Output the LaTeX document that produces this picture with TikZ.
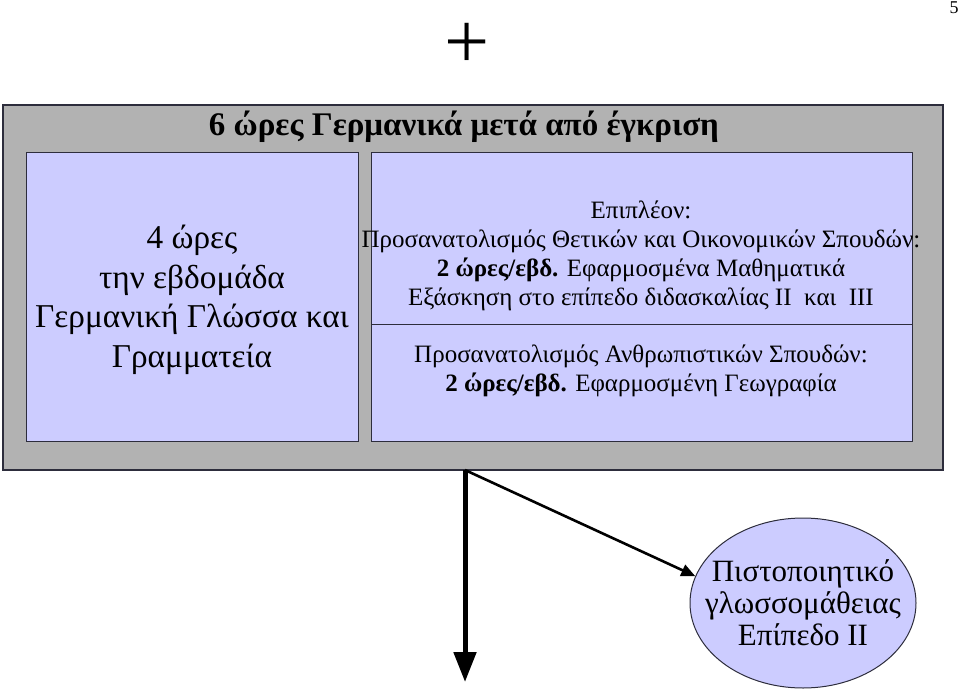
\documentclass[tikz,border=0pt]{standalone}
\usepackage{fontspec}
\setmainfont{Liberation Serif}
\usepackage{tikz}
\usetikzlibrary{shapes.geometric, arrows.meta, positioning}
\definecolor{panelgrey}{RGB}{178,178,178}
\definecolor{lilac}{RGB}{204,204,255}
\definecolor{edge}{RGB}{45,45,60}
\tikzset{
  frame/.style  = {rectangle, draw=edge, line width=1.2pt, fill=panelgrey,
                   inner sep=0pt},
  hbox/.style   = {rectangle, draw=edge, line width=1pt, fill=lilac,
                   align=center, inner sep=0pt},
  txt/.style    = {align=center, inner sep=0pt},
  cert/.style   = {ellipse, draw=edge, line width=1pt, fill=lilac,
                   minimum width=226pt, minimum height=170pt, inner sep=0pt},
  fat/.style    = {-{Triangle[length=30pt, width=22pt]}, line width=5pt, draw=black},
  thin/.style   = {-{Triangle[length=14pt, width=12pt]}, line width=2.6pt, draw=black},
}

\begin{document}
\begin{tikzpicture}[x=1pt, y=-1pt]
  \useasboundingbox (0,0) rectangle (960,690);

  \node[txt, font=\fontsize{80}{80}\selectfont] (plus) at (467,46) {+};
  \node[txt, font=\fontsize{18}{18}\selectfont] (page) at (954,8) {5};

  % grey panel with its two boxes
  \node[frame, minimum width=940pt, minimum height=365pt] (panel) at (473,287.5) {};
  \node[txt, font=\bfseries\fontsize{33}{36}\selectfont] (title) at (464,127)
    {6 ώρες Γερμανικά μετά από έγκριση};

  \node[hbox, minimum width=332pt, minimum height=289pt] (weekly) at (192,296.5) {};
  \node[txt, font=\fontsize{33.3}{39.5}\selectfont] (weeklytxt) at (192,300)
    {4 ώρες\\την εβδομάδα\\Γερμανική Γλώσσα και\\Γραμματεία};

  \node[hbox, minimum width=541pt, minimum height=172pt] (sci) at (641.5,238) {};
  \node[hbox, minimum width=541pt, minimum height=117pt] (hum) at (641.5,382.5) {};

  \node[txt, font=\fontsize{25}{29}\selectfont] (scitxt) at (641,256)
    {Επιπλέον:\\Προσανατολισμός Θετικών και Οικονομικών Σπουδών:\\
     \textbf{2 ώρες/εβδ.} Εφαρμοσμένα Μαθηματικά\\
     Εξάσκηση στο επίπεδο διδασκαλίας ΙΙ~~και~~ΙΙΙ};
  \node[txt, font=\fontsize{25}{29}\selectfont] (humtxt) at (641,371)
    {Προσανατολισμός Ανθρωπιστικών Σπουδών:\\
     \textbf{2 ώρες/εβδ.} Εφαρμοσμένη Γεωγραφία};

  % outcome
  \node[cert] (diploma) at (803,603) {};
  \node[txt, font=\fontsize{31}{32}\selectfont] (diplomatxt) at (803,603)
    {Πιστοποιητικό\\γλωσσομάθειας\\Επίπεδο ΙΙ};

  \coordinate (split) at (465,470);
  \coordinate (onward) at (465,682);

  \draw[fat]  (split) -- (onward);
  \draw[thin] (split) -- (diploma.166);
\end{tikzpicture}
\end{document}
